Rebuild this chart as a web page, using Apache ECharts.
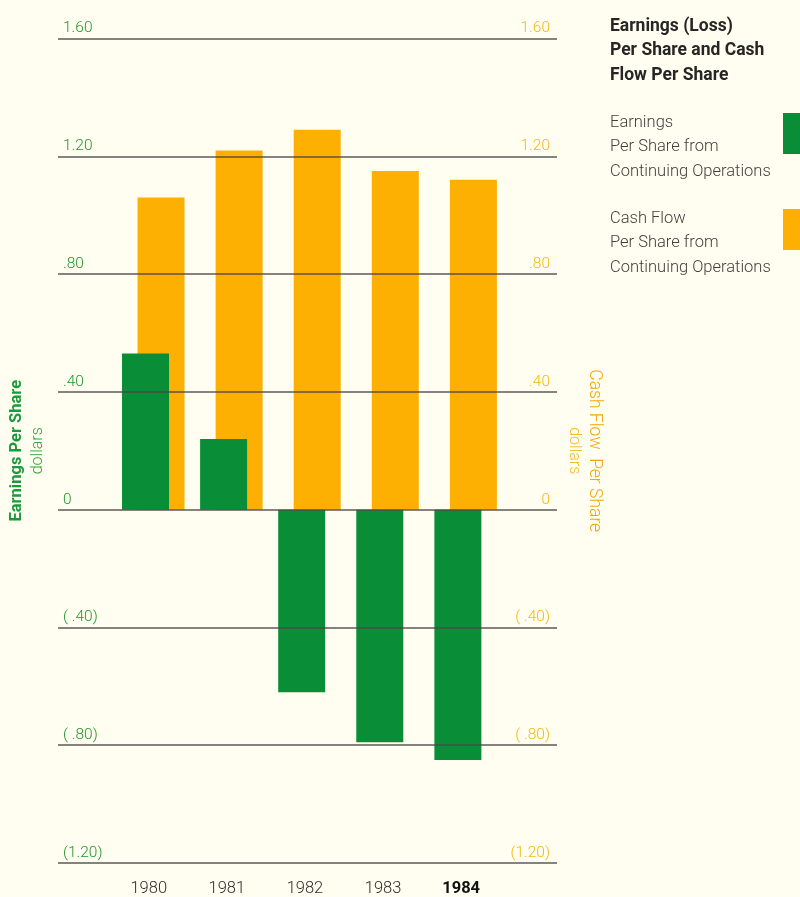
<!DOCTYPE html>
<html>
<head>
<meta charset="utf-8">
<title>Earnings (Loss) Per Share and Cash Flow Per Share</title>
<script src="https://cdn.jsdelivr.net/npm/echarts@6/dist/echarts.min.js"></script>
<style>
  html, body { margin: 0; padding: 0; background: #fffef1; }
  #chart { width: 800px; height: 897px; }
</style>
</head>
<body>
<div id="chart"></div>
<script>
// Per-share figures, 1980-1984 (dollars)
const years = [1980, 1981, 1982, 1983, 1984];
const earnings = [0.53, 0.24, -0.62, -0.79, -0.85];
const cashFlow = [1.06, 1.22, 1.29, 1.15, 1.12];

// Value-axis ticks (both axes share the same scale)
const tickValues = [-1.2, -0.8, -0.4, 0, 0.4, 0.8, 1.2, 1.6];

const titleLines = ['Earnings (Loss)', 'Per Share and Cash', 'Flow Per Share'];
const earningsName = 'Earnings Per Share from Continuing Operations';
const cashName = 'Cash Flow Per Share from Continuing Operations';
const legendLines = {
  [earningsName]: ['Earnings', 'Per Share from', 'Continuing Operations'],
  [cashName]: ['Cash Flow', 'Per Share from', 'Continuing Operations']
};

const FONT = "Roboto, 'Liberation Sans', sans-serif";
const LIGHT = 300;
const GREEN = '#0a8d37';
const ORANGE = '#fdb002';
const RULE = '#4f4646';

// 1.60 / .80 / 0 / ( .40) / (1.20)
function tickText(v) {
  const r = Math.round(v * 100) / 100;
  if (r === 0) return '0';
  let s = Math.abs(r).toFixed(2);
  if (s.charAt(0) === '0') s = s.slice(1);
  if (r < 0) return '(' + (Math.abs(r) < 1 ? ' ' : '') + s + ')';
  return s;
}

const chart = echarts.init(document.getElementById('chart'), null, { renderer: 'canvas' });

chart.setOption({
  backgroundColor: '#fffef1',
  animation: false,
  title: {
    text: titleLines.join('\n'),
    left: 610,
    top: 14,
    padding: 0,
    textStyle: {
      fontFamily: FONT,
      fontSize: 17.5,
      fontWeight: 'bold',
      lineHeight: 24.5,
      color: '#262626'
    }
  },
  legend: {
    data: [earningsName, cashName],
    orient: 'vertical',
    left: 610,
    top: 113,
    padding: 0,
    align: 'right',
    icon: 'rect',
    itemWidth: 17,
    itemHeight: 41,
    itemGap: 29,
    selectedMode: false,
    formatter: name => legendLines[name].map(l => '{t|' + l + '}').join('\n'),
    textStyle: {
      width: 168,
      padding: [27, 0, 0, 0],
      rich: {
        t: {
          align: 'left',
          fontFamily: FONT,
          fontWeight: LIGHT,
          fontSize: 16.5,
          lineHeight: 24.5,
          color: '#3f3f3f'
        }
      }
    }
  },
  grid: { left: 58, right: 243, top: 38.5, bottom: 31.5 },
  xAxis: {
    type: 'value',
    min: 1978.78,
    max: 1985.17,
    splitLine: { show: false },
    axisLine: { show: false },
    axisTick: { show: false },
    axisLabel: {
      customValues: years,
      margin: 17,
      padding: [0, 9, 0, 0],
      formatter: v => (v === years[years.length - 1] ? '{b|' + v + '}' : '{n|' + v + '}'),
      rich: {
        n: { fontFamily: FONT, fontWeight: LIGHT, fontSize: 16.5, color: '#2e2e2e' },
        b: { fontFamily: FONT, fontSize: 16.5, fontWeight: 'bold', color: '#111111' }
      }
    }
  },
  yAxis: [
    {
      type: 'value',
      position: 'left',
      min: tickValues[0],
      max: tickValues[tickValues.length - 1],
      interval: 0.4,
      splitLine: { show: false },
      axisLine: { show: false },
      axisTick: { show: false },
      axisLabel: {
        inside: true,
        margin: 5,
        verticalAlign: 'bottom',
        padding: [0, 0, 2, 0],
        fontFamily: FONT,
        fontWeight: LIGHT,
        fontSize: 15.5,
        color: '#24952e',
        formatter: tickText
      },
      name: '{a|Earnings Per Share}\n{b|dollars}',
      nameLocation: 'middle',
      nameRotate: 90,
      nameGap: 10,
      nameTextStyle: {
        rich: {
          a: { fontFamily: FONT, fontSize: 16.5, fontWeight: 'bold', lineHeight: 22, color: '#1d9a3d' },
          b: { fontFamily: FONT, fontWeight: LIGHT, fontSize: 16, lineHeight: 20, color: '#35a63c' }
        }
      }
    },
    {
      type: 'value',
      position: 'right',
      min: tickValues[0],
      max: tickValues[tickValues.length - 1],
      interval: 0.4,
      splitLine: { show: false },
      axisLine: { show: false },
      axisTick: { show: false },
      axisLabel: {
        inside: true,
        margin: 7,
        verticalAlign: 'bottom',
        padding: [0, 0, 2, 0],
        fontFamily: FONT,
        fontWeight: LIGHT,
        fontSize: 15.5,
        color: '#f3b812',
        formatter: tickText
      },
      name: '{a|Cash Flow  Per Share}\n{b|dollars}',
      nameLocation: 'middle',
      nameRotate: -90,
      nameGap: 6,
      nameTextStyle: {
        rich: {
          a: { fontFamily: FONT, fontWeight: LIGHT, fontSize: 17.5, lineHeight: 20, color: '#f0a80c' },
          b: { fontFamily: FONT, fontWeight: LIGHT, fontSize: 16, lineHeight: 20, color: '#f4bb2e' }
        }
      }
    }
  ],
  series: [
    {
      name: earningsName,
      type: 'bar',
      yAxisIndex: 0,
      z: 3,
      barWidth: 47,
      barGap: '-67%',
      itemStyle: { color: GREEN },
      data: years.map((y, i) => [y, earnings[i]])
    },
    {
      name: cashName,
      type: 'bar',
      yAxisIndex: 0,
      z: 2,
      barWidth: 47,
      itemStyle: { color: ORANGE },
      data: years.map((y, i) => [y, cashFlow[i]]),
      // horizontal rules, drawn above the bars
      markLine: {
        silent: true,
        symbol: ['none', 'none'],
        label: { show: false },
        lineStyle: { type: 'solid', color: RULE, width: 1.5, opacity: 0.9 },
        emphasis: { disabled: true },
        data: tickValues.map(v => ({ yAxis: v }))
      }
    }
  ]
});
</script>
</body>
</html>
